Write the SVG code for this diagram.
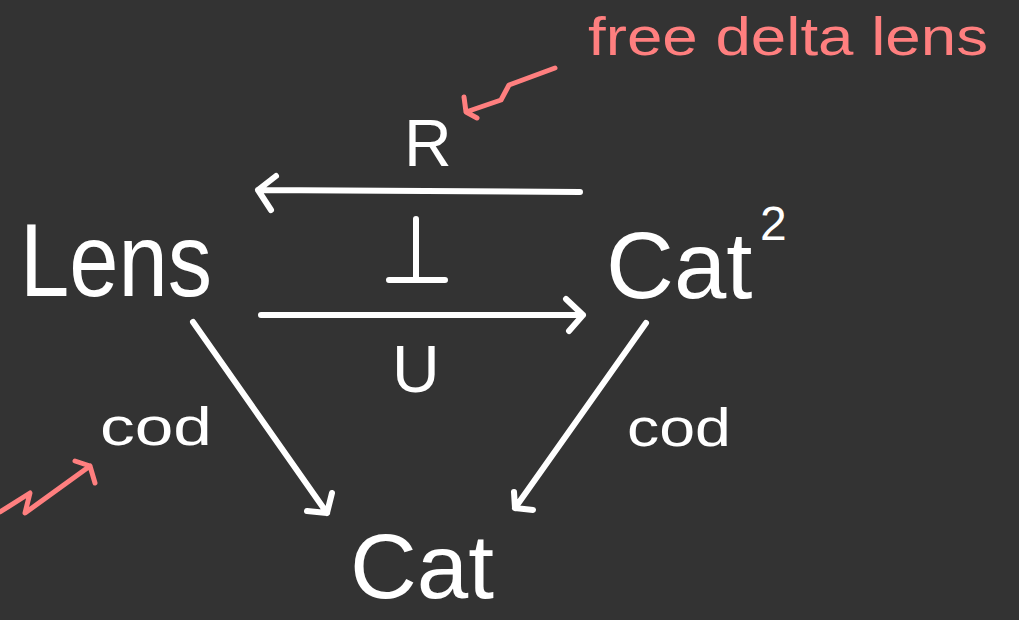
<svg xmlns="http://www.w3.org/2000/svg" width="1019" height="620" viewBox="0 0 1019 620">
<style>
.bg{fill:#333333}
.lbl{fill:#ffffff;font-family:"Liberation Sans","DejaVu Sans",sans-serif}
.note{fill:#ff7f7f;font-family:"Liberation Sans","DejaVu Sans",sans-serif}
.edge{fill:none;stroke:#ffffff;stroke-width:6;stroke-linecap:round;stroke-linejoin:round}
.pink{fill:none;stroke:#ff7f7f;stroke-width:5;stroke-linecap:round;stroke-linejoin:round}
</style>
<rect class="bg" x="0" y="0" width="1019" height="620"/>
<g id="node-lens"><text class="lbl" x="20" y="296" font-size="104" textLength="192" lengthAdjust="spacingAndGlyphs">Lens</text></g>
<g id="node-cat2"><text class="lbl" x="606" y="298" font-size="94">Cat<tspan x="760" y="240" font-size="48">2</tspan></text></g>
<g id="node-cat"><text class="lbl" x="350" y="598" font-size="90" textLength="144" lengthAdjust="spacingAndGlyphs">Cat</text></g>
<g id="connectors">
<path class="edge" d="M580,192 L258,190 M276,176 L258,190 L271,210"/>
<path class="edge" d="M416,219 L416,280 M389,280 L445,280"/>
<path class="edge" d="M261,315 L583,315 M566,299 L583,315 L569,331"/>
<path class="edge" d="M193,322 L327,513 M332,493 L327,513 L307,511"/>
<path class="edge" d="M646,323 L515,508 M514,492 L515,508 L533,510"/>
</g>
<g id="labels">
<text class="lbl" x="404" y="166" font-size="66">R</text>
<text class="lbl" x="392" y="392" font-size="66">U</text>
<text class="lbl" x="100" y="445" font-size="54" textLength="112" lengthAdjust="spacingAndGlyphs">cod</text>
<text class="lbl" x="627" y="446" font-size="54" textLength="104" lengthAdjust="spacingAndGlyphs">cod</text>
</g>
<g id="annotations">
<text class="note" x="588" y="55" font-size="54" textLength="400" lengthAdjust="spacingAndGlyphs">free delta lens</text>
<path class="pink" d="M555,68 L509,85 L501,100 L466,112 M464,97 L466,112 L477,118"/>
<path class="pink" d="M0,512 L30,493 L25,513 L90,466 M75,461 L90,466 L95,483"/>
</g>
</svg>
